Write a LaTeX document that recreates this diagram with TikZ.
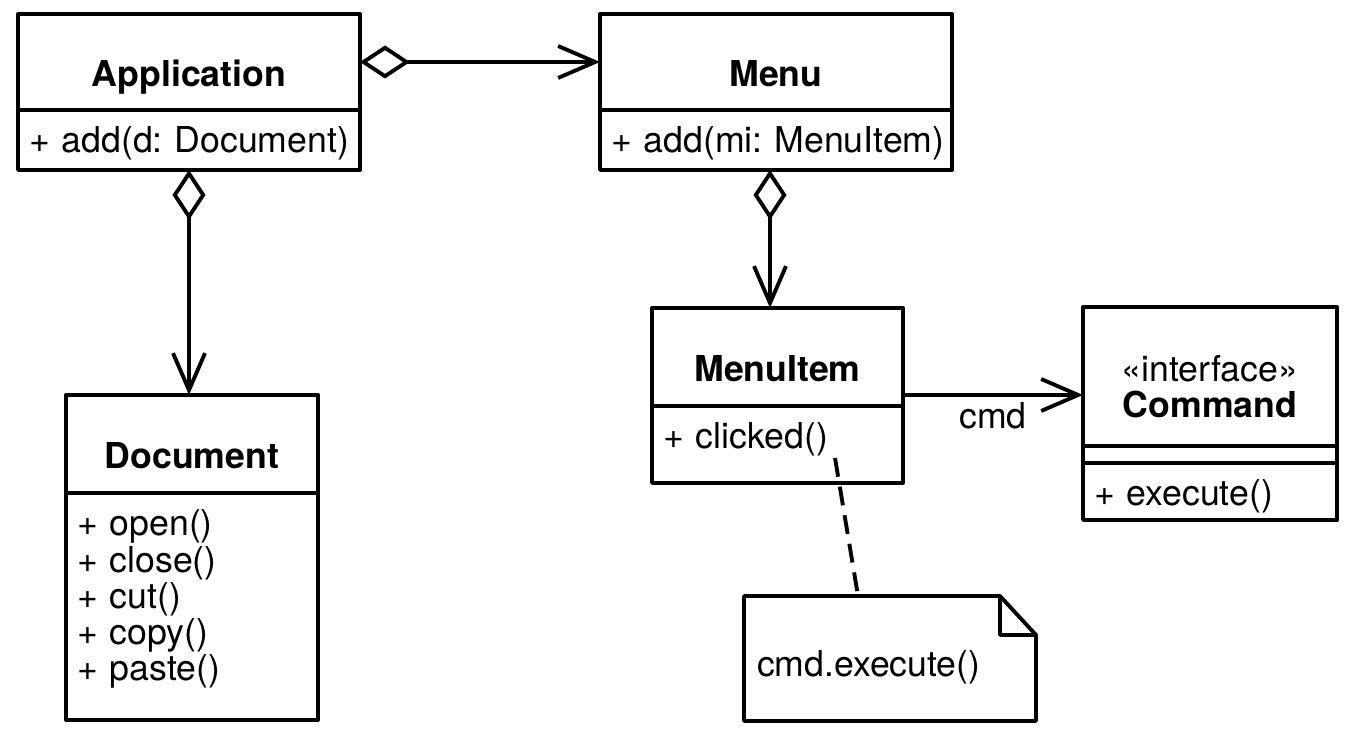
\documentclass[tikz,border=0pt]{standalone}
\usepackage{fontspec}
\setmainfont{TeX Gyre Heros}
\usetikzlibrary{arrows.meta}
\frenchspacing

\begin{document}
\begin{tikzpicture}[
  line width=2.2pt, line join=round,
  every node/.style={font=\fontsize{20.3}{20.6}\selectfont},
  clsname/.style={draw, inner sep=0pt, outer sep=0pt, anchor=north west, font=\fontsize{20.3}{20.6}\selectfont\bfseries, text height=1.1cm, text depth=0.1cm},
  clsops/.style={draw, inner xsep=0.22cm, inner ysep=0pt, outer sep=0pt, anchor=north west, align=left, text height=0.86cm},
  agg/.style={{Diamond[open,length=1.0cm,width=0.66cm]}-{Straight Barb[length=0.74cm,width=0.64cm]}},
  assoc/.style={-{Straight Barb[length=0.74cm,width=0.64cm]}},
]

\useasboundingbox (0,0) rectangle (27.08,14.96);

% ── Application ──
\node[clsname, minimum width=6.84cm, minimum height=1.92cm] (app) at (0.36,14.68) {Application};
\node[clsops, text width=6.40cm, text depth=0.34cm] (appops) at (app.south west) {\mbox{+ add(d: Document)}};

% ── Menu ──
\node[clsname, minimum width=7.04cm, minimum height=1.92cm] (menu) at (12.00,14.68) {Menu};
\node[clsops, text width=6.60cm, text depth=0.34cm] (menuops) at (menu.south west) {\mbox{+ add(mi: MenuItem)}};

% ── Document ──
\node[clsname, minimum width=5.04cm, minimum height=1.96cm] (doc) at (1.32,7.06) {Document};
\node[clsops, text width=4.60cm, text depth=3.68cm] (docops) at (doc.south west) {+ open()\\+ close()\\+ cut()\\+ copy()\\+ paste()};

% ── MenuItem ──
\node[clsname, minimum width=5.02cm, minimum height=1.96cm] (mi) at (13.04,8.80) {MenuItem};
\node[clsops, text width=4.58cm, text depth=0.68cm] (miops) at (mi.south west) {+ clicked()};

% ── Command (interface) ──
\node[clsname, minimum width=5.08cm, minimum height=2.78cm, text height=1.76cm, text depth=0.1cm, align=center] (cmd) at (21.66,8.82) {{\mdseries «interface»}\\Command};
\node[draw, minimum width=5.08cm, minimum height=0.34cm, inner sep=0pt, outer sep=0pt, anchor=north west] (cmdattr) at (cmd.south west) {};
\node[clsops, text width=4.64cm, text depth=0.28cm] (cmdops) at (cmdattr.south west) {+ execute()};

% ── Note ──
\node[anchor=north west, inner xsep=0.26cm, inner ysep=0pt, outer sep=0pt, text width=5.32cm, text height=1.62cm, text depth=0.88cm, align=left] (note) at (14.88,3.04) {cmd.execute()};
\draw (note.north west) -- ([xshift=-0.72cm]note.north east) -- ([yshift=-0.78cm]note.north east) -- (note.south east) -- (note.south west) -- cycle;
\draw ([xshift=-0.72cm]note.north east) |- ([yshift=-0.78cm]note.north east);

% ── Connectors ──
\draw[agg] (app.east) -- (menu.west);
\draw[agg] (appops.south) -- (appops.south |- doc.north);

\coordinate (menuagg) at ([xshift=-0.12cm]menuops.south);
\draw[agg] (menuagg) -- (menuagg |- mi.north);

\coordinate (cmdfrom) at ([yshift=0.22cm]mi.south east);
\draw[assoc] (cmdfrom) -- (cmdfrom -| cmd.west) node[midway, below] {cmd};

\coordinate (clk) at ([xshift=3.66cm,yshift=0.5cm]miops.south west);
\coordinate (notein) at ([xshift=2.28cm]note.north west);
\draw[dash pattern=on 10.8pt off 5.7pt] (clk) -- (notein);

\end{tikzpicture}
\end{document}
